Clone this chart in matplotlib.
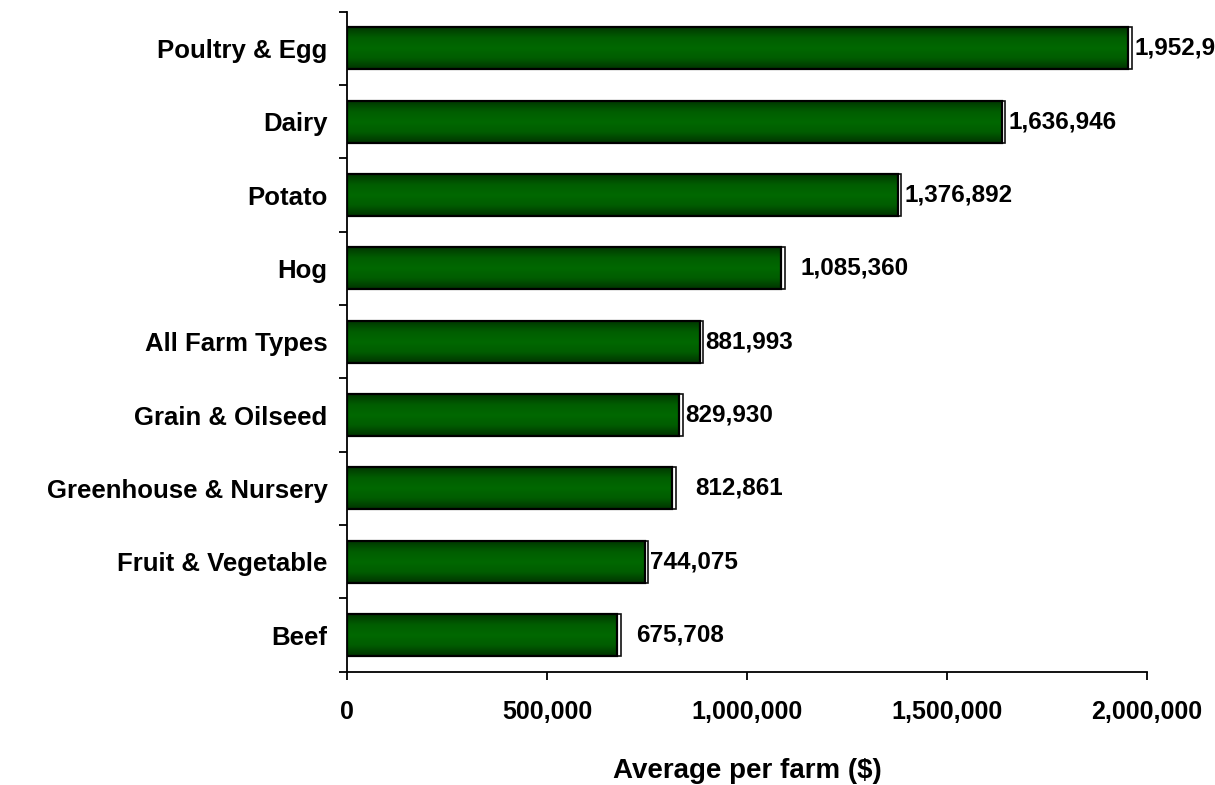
import numpy as np
import matplotlib.pyplot as plt
from matplotlib.colors import LinearSegmentedColormap
from matplotlib.patches import Rectangle

plt.rcParams['font.family'] = ['Liberation Sans', 'DejaVu Sans']
plt.rcParams['font.weight'] = 'bold'

farm_types = ['Poultry & Egg', 'Dairy', 'Potato', 'Hog', 'All Farm Types',
              'Grain & Oilseed', 'Greenhouse & Nursery', 'Fruit & Vegetable', 'Beef']
avg_per_farm = [1952948, 1636946, 1376892, 1085360, 881993,
                829930, 812861, 744075, 675708]
value_labels = ['1,952,948', '1,636,946', '1,376,892', '1,085,360', '881,993',
                '829,930', '812,861', '744,075', '675,708']
x_ticks = [0, 500000, 1000000, 1500000, 2000000]
x_tick_labels = ['0', '500,000', '1,000,000', '1,500,000', '2,000,000']

# gap between bar end and its value label, in points
label_gap = [2, 2, 2, 11, 1, 2, 14, 1, 11]

bar_h = 0.57
shade = LinearSegmentedColormap.from_list(
    'shade', ['#003800', '#005e00', '#006800', '#005c00', '#003400'])
grad = np.linspace(0, 1, 64).reshape(-1, 1)

fig = plt.figure(figsize=(12.15, 7.85), dpi=100)
ax = fig.add_axes([0.2856, 0.1443, 0.6584, 0.8408])

n = len(farm_types)
ypos = np.arange(n)
shadow_dx = 9000

for i, v in enumerate(avg_per_farm):
    # offset outline behind the bar gives the thin white/black rim on the right
    ax.add_patch(Rectangle((0, i - bar_h / 2), v + shadow_dx, bar_h,
                           facecolor='white', edgecolor='#111111', lw=1.2, zorder=1))
    ax.imshow(grad, cmap=shade, aspect='auto', zorder=2,
              extent=(0, v, i + bar_h / 2, i - bar_h / 2))
ax.barh(ypos, avg_per_farm, height=bar_h, color='none',
        edgecolor='black', linewidth=1.6, zorder=3)

for i, (v, lab) in enumerate(zip(avg_per_farm, value_labels)):
    ax.annotate(lab, (v + shadow_dx, i), xytext=(label_gap[i], 0),
                textcoords='offset points', va='center', ha='left',
                fontsize=17.5, fontweight='bold', annotation_clip=False)

ax.set_xlim(0, 2000000)
ax.set_ylim(n - 0.5, -0.5)

ax.set_xticks(x_ticks)
ax.set_xticklabels(x_tick_labels)
ax.set_yticks(np.arange(n + 1) - 0.5)
ax.set_yticklabels([])
ax.set_yticks(ypos, minor=True)
ax.set_yticklabels(farm_types, minor=True)
ax.tick_params(axis='y', which='minor', length=0, pad=14, labelsize=18.5)
ax.tick_params(axis='y', which='major', length=6, width=1.3, direction='out')
ax.tick_params(axis='x', length=6, width=1.3, direction='out', pad=14, labelsize=18)
for t in ax.get_xticklabels() + ax.get_yticklabels(minor=True):
    t.set_fontweight('bold')

ax.set_xlabel('Average per farm ($)', fontsize=20, fontweight='bold', labelpad=25)

for s in ['top', 'right']:
    ax.spines[s].set_visible(False)
for s in ['left', 'bottom']:
    ax.spines[s].set_linewidth(1.3)

fig.savefig('out.png', dpi=100)
